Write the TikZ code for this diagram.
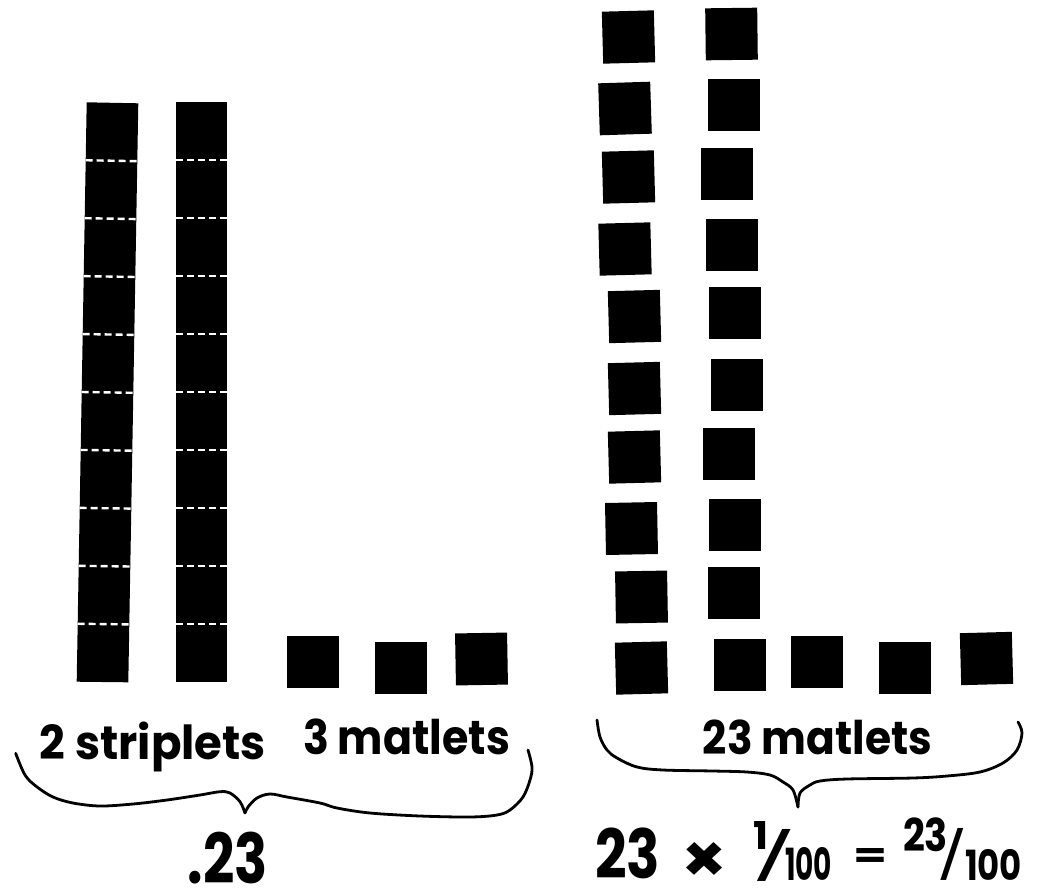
\documentclass[tikz,border=0pt]{standalone}
\usepackage{fontspec}
\setmainfont{Poppins}
\usepackage{graphicx}
\usetikzlibrary{calc}
% text squeezed into a box of given width and total height (in pt)
\newcommand\inkbox[3]{\resizebox*{#1pt}{#2pt}{\bfseries #3}}
\newcommand\thinbox[3]{\resizebox*{#1pt}{#2pt}{\mdseries #3}}
\begin{document}
\begin{tikzpicture}[x=1pt,y=-1pt,
  tile/.style={fill=black, inner sep=0pt, minimum size=52pt},
  word/.style={inner sep=0pt, anchor=center},
  brace/.style={line width=2.8pt, line cap=round, line join=round},
  seam/.style={white, line width=2.4pt, dash pattern=on 7pt off 4pt}]
\useasboundingbox (0,0) rectangle (1042,892);

% ---- two striplets (columns of ten) ----
\coordinate (s1tl) at (86.7,102.3);
\coordinate (s1tr) at (138.3,103.3);
\coordinate (s1br) at (128.3,682.3);
\coordinate (s1bl) at (76.7,681.7);
\fill (s1tl) -- (s1tr) -- (s1br) -- (s1bl) -- cycle;
\node[tile, minimum width=51pt, minimum height=580pt] (strip2) at (201.5,392) {};
\foreach \k in {1,...,9}{
  \draw[seam] ($(s1tl)!\k/10!(s1bl)$) -- ($(s1tr)!\k/10!(s1br)$);
  \draw[seam] ($(strip2.north west)!\k/10!(strip2.south west)$) -- ($(strip2.north east)!\k/10!(strip2.south east)$);
}

% ---- three loose matlets ----
\node[tile] (m1) at (313,662) {};
\node[tile] (m2) at (401,668) {};
\node[tile, rotate=1] (m3) at (481.5,659) {};

% ---- twenty-three matlets ----
\node[tile, rotate=1.5] (a1) at (628.5,37) {};
\node[tile, rotate=1.8] (a2) at (625,108.5) {};
\node[tile, rotate=1.5] (a3) at (628.5,177) {};
\node[tile, rotate=1.5] (a4) at (625,249) {};
\node[tile, rotate=1.5] (a5) at (634.5,316.5) {};
\node[tile, rotate=1.5] (a6) at (634.5,388.5) {};
\node[tile, rotate=1.5] (a7) at (634.5,457) {};
\node[tile, rotate=1.1] (a8) at (631.5,528.5) {};
\node[tile, rotate=1] (a9) at (641.5,597) {};
\node[tile, rotate=1.5] (a10) at (641.5,668) {};
\node[tile, rotate=0.7] (b1) at (731.5,34) {};
\node[tile] (b2) at (734,105) {};
\node[tile] (b3) at (727,174) {};
\node[tile] (b4) at (732,245) {};
\node[tile] (b5) at (734.5,313) {};
\node[tile] (b6) at (737,385) {};
\node[tile] (b7) at (729,454) {};
\node[tile] (b8) at (735,525) {};
\node[tile] (b9) at (734,593) {};
\node[tile] (b10) at (740,665) {};
\node[tile] (c1) at (817,662) {};
\node[tile] (c2) at (905,668) {};
\node[tile, rotate=1.5] (c3) at (986.5,658.5) {};

% ---- labels ----
\node[word] (lstrip) at (153,747) {\inkbox{226}{50}{2 striplets}};
\node[word] (lmat) at (406.5,737) {\inkbox{207}{36}{3 matlets}};
\node[word] (rmat) at (817.5,737.5) {\inkbox{229}{35}{23 matlets}};

% ---- left brace ----
\coordinate (ltip) at (245,813);
\draw[brace] plot[smooth, tension=0.55] coordinates {(15.7,753.3) (25,775) (36.7,786.7) (53,797) (73,803) (100,806) (133,804) (167,800) (200,795) (220,791.7) (230,793) (240,801.7) (ltip)};
\draw[brace] plot[smooth, tension=0.55] coordinates {(ltip) (248,807) (257,798) (270,794) (287,797) (320,803) (337,808) (370,813) (420,816) (470,817) (497,815) (510,810) (523,797) (530,780) (532,767) (528,750)};

% ---- right brace ----
\coordinate (rtip) at (798,807);
\draw[brace] plot[smooth, tension=0.55] coordinates {(597,720) (600,737) (607,750) (617,758) (637,767) (663,770) (713,771) (747,772) (770,775) (783,782) (793,790) (rtip)};
\draw[brace] plot[smooth, tension=0.55] coordinates {(rtip) (800,793) (810,785) (820,781) (847,779) (913,778) (947,776) (980,772) (1003,763) (1017,750) (1022,733) (1018,722)};

% ---- results ----
\node[word] (dec) at (228,858.5) {\inkbox{80}{52}{.23}};
\node[word] (n23) at (627.5,853) {\inkbox{65}{51}{23}};
\node[word] (times) at (705,862) {\inkbox{46}{40}{×}};
\node[word] (num1) at (761,835) {\inkbox{15}{28}{1}};
\node[word] (sl1) at (775,855) {\thinbox{44}{52}{/}};
\node[word] (den1) at (808.5,863.5) {\inkbox{47}{33}{100}};
\node[word] (eq) at (870,858) {\inkbox{34}{19}{=}};
\node[word] (num2) at (925.5,834.5) {\inkbox{45}{34}{23}};
\node[word] (sl2) at (952,854) {\thinbox{30}{52}{/}};
\node[word] (den2) at (993.5,864.5) {\inkbox{57}{31}{100}};
\end{tikzpicture}
\end{document}
